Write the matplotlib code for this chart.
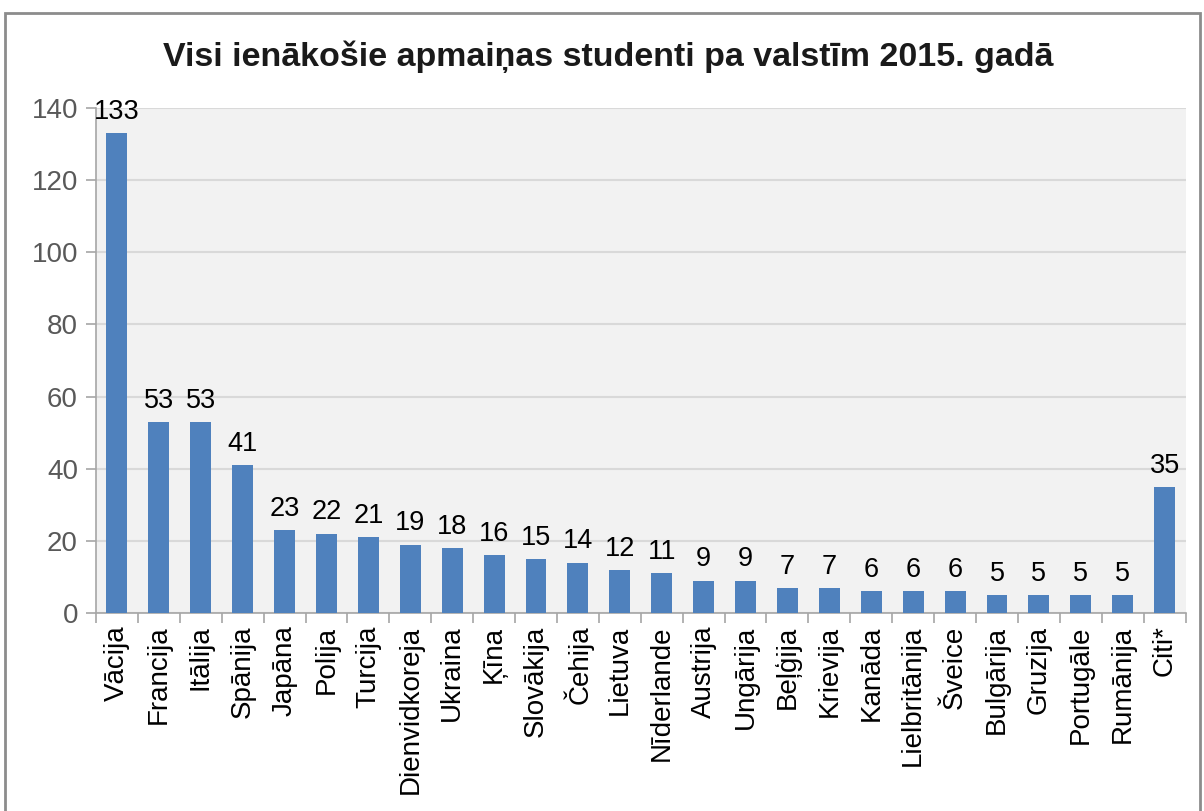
import numpy as np
import matplotlib.pyplot as plt
from matplotlib.patches import Rectangle

plt.rcParams['font.family'] = ['Liberation Sans', 'DejaVu Sans']

# Data
countries = ['Vācija', 'Francija', 'Itālija', 'Spānija', 'Japāna', 'Polija', 'Turcija',
             'Dienvidkoreja', 'Ukraina', 'Ķīna', 'Slovākija', 'Čehija', 'Lietuva',
             'Nīderlande', 'Austrija', 'Ungārija', 'Beļģija', 'Krievija', 'Kanāda',
             'Lielbritānija', 'Šveice', 'Bulgārija', 'Gruzija', 'Portugāle', 'Rumānija', 'Citi*']
students = [133, 53, 53, 41, 23, 22, 21, 19, 18, 16, 15, 14, 12, 11, 9, 9, 7, 7, 6, 6, 6, 5, 5, 5, 5, 35]

fig = plt.figure(figsize=(12.04, 8.11), dpi=100)
ax = fig.add_axes([0.0797, 0.244, 0.905, 0.623])

# outer chart border
fig.patches.append(Rectangle((0.004, -0.05), 0.993, 1.034, transform=fig.transFigure,
                             fill=False, edgecolor='#8c8c8c', linewidth=2))

x = np.arange(len(countries))
bars = ax.bar(x, students, width=0.5, color='#4f81bd', zorder=3)

ax.set_facecolor('#f2f2f2')
ax.set_xlim(-0.5, len(countries) - 0.5)
ax.set_ylim(0, 140)
ax.set_yticks(range(0, 141, 20))
ax.grid(axis='y', color='#d9d9d9', linewidth=1.5, zorder=0)

for s in ['top', 'right']:
    ax.spines[s].set_visible(False)
for s in ['left', 'bottom']:
    ax.spines[s].set_color('#a6a6a6')
    ax.spines[s].set_linewidth(1.2)

ax.tick_params(axis='y', colors='#a6a6a6', labelcolor='#595959', labelsize=20, length=7, width=1.2, pad=6)
ax.set_xticks(x)
ax.set_xticklabels(countries, rotation=90, fontsize=20)
ax.tick_params(axis='x', length=0, pad=9)
ax.set_xticks(np.arange(-0.5, len(countries), 1), minor=True)
ax.tick_params(axis='x', which='minor', length=7, width=1.2, colors='#a6a6a6')

for xi, v in zip(x, students):
    ax.text(xi, v + 2.3, str(v), ha='center', va='bottom', fontsize=19.5, color='black')

fig.text(0.505, 0.930, 'Visi ienākošie apmaiņas studenti pa valstīm 2015. gadā',
         ha='center', va='center', fontsize=24.5, fontweight='semibold', color='#1a1a1a')

fig.savefig('out.png', dpi=100)
